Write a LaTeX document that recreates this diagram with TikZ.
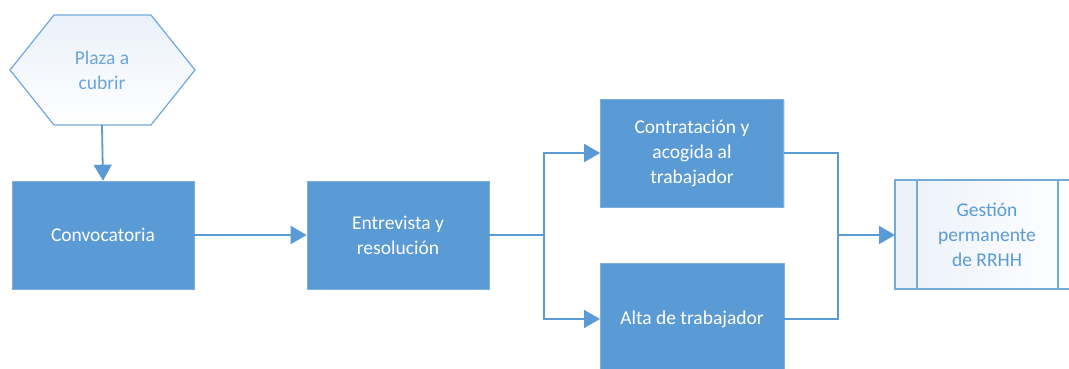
\documentclass[tikz,border=0pt]{standalone}
\usepackage{fontspec}
\setmainfont{Carlito}
\usetikzlibrary{arrows.meta,shadows}
\definecolor{mblue}{HTML}{5B9BD5}
\definecolor{lblue}{HTML}{EAF1FA}
\newcommand{\boxfont}{\fontsize{19.5}{25}\selectfont}
\tikzset{
  proc/.style={fill=mblue, draw=mblue!80!white, line width=0.6pt, text=white, align=center,
    drop shadow={shadow xshift=1pt, shadow yshift=-1pt, opacity=0.25}, font=\boxfont},
  conn/.style={draw=mblue, line width=1.8pt},
  arr/.style={conn, -{Triangle[length=16pt,width=18pt]}},
}
\begin{document}
\begin{tikzpicture}[x=1pt,y=-1pt]
\useasboundingbox (0,0) rectangle (1069,369);
% hexagon
\path[draw=mblue!85!white, line width=1.2pt, top color=lblue, bottom color=white]
  (10,70) -- (54,15) -- (151,15) -- (195,70) -- (151,125) -- (54,125) -- cycle;
\node[text=mblue!90!white, align=center, font=\boxfont] (plaza) at (102,70) {Plaza a\\cubrir};
\coordinate (hexbot) at (102,125);
% boxes
\node[proc, minimum width=182pt, minimum height=108pt] (conv) at (103,235) {Convocatoria};
\node[proc, minimum width=182pt, minimum height=108pt] (entr) at (398,235) {Entrevista y\\resolución};
\node[proc, minimum width=183pt, minimum height=108pt] (contr) at (692,153) {Contratación y\\acogida al\\trabajador};
\path[fill=mblue, draw=mblue!80!white, line width=0.6pt] (600,263) rectangle (784,372);
\node[text=white, font=\boxfont] (alta) at (692,319) {Alta de trabajador};
\coordinate (altaL) at (600,319);
\coordinate (altaR) at (784,319);
% subprocess
\path[draw=mblue!85!white, line width=1.2pt, left color=lblue, right color=white] (895,180) rectangle (1075,289);
\draw[mblue!85!white, line width=1.2pt] (917,180) -- (917,289) (1058,180) -- (1058,289);
\node[text=mblue, align=center, font=\boxfont] (gest) at (987,235) {Gestión\\permanente\\de RRHH};
\coordinate (gestL) at (895,235);
% connectors
\draw[arr] (hexbot) -- (conv.north);
\draw[arr] (conv.east) -- (entr.west);
\coordinate (b1) at (544,235);
\draw[conn] (entr.east) -- (b1);
\draw[arr] (b1) |- (contr.west);
\draw[arr] (b1) |- (altaL);
\coordinate (j1) at (838,235);
\draw[conn] (contr.east) -| (j1);
\draw[conn] (altaR) -| (j1);
\draw[arr] (j1) -- (gestL);
\end{tikzpicture}
\end{document}
